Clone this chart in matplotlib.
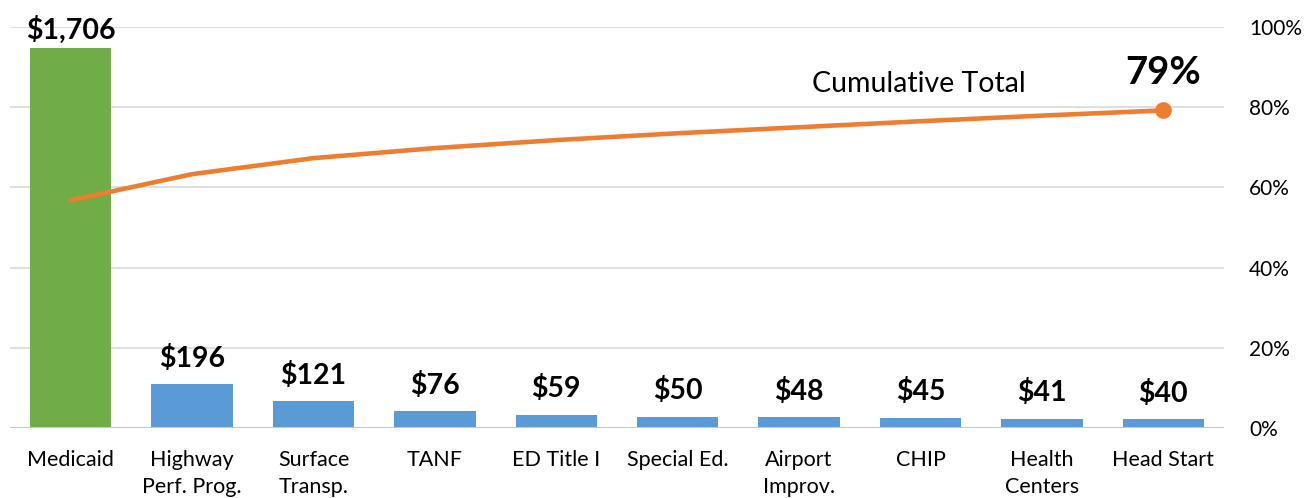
import matplotlib
matplotlib.use("Agg")
import matplotlib.pyplot as plt
from matplotlib.ticker import PercentFormatter

plt.rcParams["font.family"] = ["Lato", "DejaVu Sans"]

# ---------------------------------------------------------------------------
# Data (billions of dollars)
# ---------------------------------------------------------------------------
programs = ["Medicaid", "Highway\nPerf. Prog.", "Surface\nTransp.", "TANF",
            "ED Title I", "Special Ed.", "Airport\nImprov.", "CHIP",
            "Health\nCenters", "Head Start"]
amounts = [1706, 196, 121, 76, 59, 50, 48, 45, 41, 40]
cumulative_pct = [0.568, 0.633, 0.673, 0.698, 0.718, 0.735, 0.750, 0.765,
                  0.779, 0.792]
pct_ticks = [0, 0.2, 0.4, 0.6, 0.8, 1.0]

green = "#70AD47"
blue = "#5B9BD5"
orange = "#ED7D31"

fig = plt.figure(figsize=(13.14, 4.98), dpi=100)
ax = fig.add_axes([10 / 1314, 1 - 428 / 498, 1214 / 1314, 401 / 498])
ax2 = ax.twinx()

# bars on the left (hidden) axis
x = list(range(len(programs)))
colors = [green] + [blue] * (len(programs) - 1)
ax.bar(x, amounts, width=0.67, color=colors, zorder=3)
ax.set_ylim(0, 1800)
ax.set_xlim(-0.5, len(programs) - 0.5)

for xi, val in zip(x, amounts):
    # the tall bar's label sits tighter so it stays inside the figure
    off = 3 if val == max(amounts) else 9
    ax.annotate(f"${val:,}", (xi, val), xytext=(0, off), textcoords="offset points",
                ha="center", va="bottom", fontsize=20.5, fontweight="bold")

# cumulative line on the right axis
ax2.set_ylim(0, 1)
ax2.plot(x, cumulative_pct, color=orange, linewidth=3.3, solid_capstyle="round", zorder=4)
ax2.plot(x[-1], cumulative_pct[-1], "o", color=orange, markersize=11, zorder=5)
ax2.annotate(f"{cumulative_pct[-1]:.0%}", (x[-1], cumulative_pct[-1]),
             xytext=(0, 15), textcoords="offset points", ha="center", va="bottom",
             fontsize=27.5, fontweight="bold")
ax2.text(6.11, 0.858, "Cumulative Total", ha="left", va="center", fontsize=20.5)

# gridlines and ticks
ax.set_yticks([])
ax2.set_yticks(pct_ticks)
ax2.yaxis.set_major_formatter(PercentFormatter(1.0, decimals=0))
ax2.tick_params(axis="y", length=0, pad=18, labelsize=15)
for t in pct_ticks[1:]:
    ax.axhline(t * 1800, color="#D9D9D9", linewidth=1.2, zorder=0)
ax.axhline(0, color="#C8C8C8", linewidth=1.5, zorder=4)

ax.set_xticks(x)
ax.set_xticklabels(programs, fontsize=15.5, linespacing=1.45)
ax.tick_params(axis="x", length=0, pad=16)

for a in (ax, ax2):
    for s in a.spines.values():
        s.set_visible(False)

fig.savefig("out.png", dpi=100)
